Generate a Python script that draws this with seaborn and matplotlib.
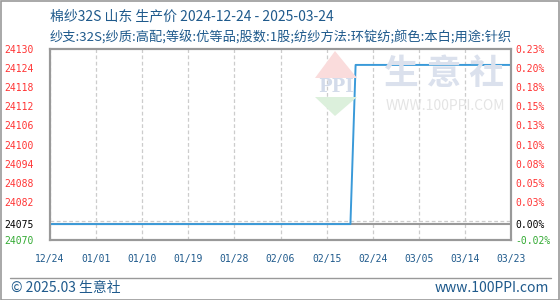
import matplotlib
matplotlib.use("Agg")
import matplotlib.pyplot as plt
import matplotlib.dates as mdates
from matplotlib.ticker import FixedLocator
from matplotlib.patches import Polygon, Rectangle
import seaborn as sns
import pandas as pd
import numpy as np

# ---- data ----
dates = ["2024-12-24", "2025-02-20", "2025-02-21", "2025-03-24"]
prices = [24075, 24075, 24125, 24125]
base_price = 24075
x_start, x_end = "2024-12-24", "2025-03-23"
x_tick_labels = ["12/24", "01/01", "01/10", "01/19", "01/28", "02/06",
                 "02/15", "02/24", "03/05", "03/14", "03/23"]
y_grid = [24070, 24076, 24082, 24088, 24094, 24100, 24106, 24112, 24118, 24124, 24130]
y_labels_left = ["24130", "24124", "24118", "24112", "24106", "24100",
                 "24094", "24088", "24082", "24075", "24070"]
y_labels_right = ["0.23%", "0.20%", "0.18%", "0.15%", "0.13%", "0.10%",
                  "0.08%", "0.05%", "0.03%", "0.00%", "-0.02%"]
y_label_pos = [24130, 24124, 24118, 24112, 24106, 24100, 24094, 24088, 24082, 24075, 24070]
title = "棉纱32S 山东 生产价 2024-12-24 - 2025-03-24"
subtitle = "纱支:32S;纱质:高配;等级:优等品;股数:1股;纺纱方法:环锭纺;颜色:本白;用途:针织"

df = pd.DataFrame({"date": pd.to_datetime(dates), "price": prices})

sns.set_theme(style="white")
plt.rcParams["font.family"] = ["Noto Sans CJK SC", "DejaVu Sans"]

fig = plt.figure(figsize=(5.6, 3.0), dpi=100)
ax = fig.add_axes([50/560, 1-240/300, 461/560, 191/300])

BLUE_TXT = "#1f5a8c"
RED = "#ff3333"
GREEN = "#33aa33"
GRID = "#cccccc"
FRAME = "#999999"

# watermark (behind data)
wm = dict(transform=fig.transFigure, zorder=0)
fig.patches.append(Polygon([[315/560, 1-78/300], [335/560, 1-51/300], [357/560, 1-78/300]],
                           closed=True, facecolor="#fadcdc", edgecolor="none", **wm))
fig.patches.append(Polygon([[315/560, 1-97/300], [357/560, 1-97/300], [335/560, 1-116/300]],
                           closed=True, facecolor="#dcf0dc", edgecolor="none", **wm))
fig.text(336/560, 1-87/300, "PPI", ha="center", va="center", fontsize=13,
         color="#d3dbea", fontweight="bold", family=["DejaVu Serif"], zorder=0)
fig.text(444/560, 1-73/300, "生 意 社", ha="center", va="center", fontsize=25,
         color="#dbe1ed", fontweight="bold", zorder=0)
fig.text(445/560, 1-106/300, "WWW.100PPI.COM", ha="center", va="center", fontsize=10,
         color="#e4e4e4", zorder=0)
ax.set_facecolor("none")

# baseline reference
ax.axhline(base_price, color=FRAME, lw=1.5, zorder=2)

sns.lineplot(data=df, x="date", y="price", ax=ax, color="#3a9ad9", lw=1.4, zorder=3)

x0, x1 = mdates.date2num(pd.Timestamp(x_start)), mdates.date2num(pd.Timestamp(x_end))
ax.set_xlim(x0, x1)
ax.set_ylim(min(y_grid), max(y_grid))
xt = np.linspace(x0, x1, len(x_tick_labels))
ax.set_xticks(xt)
ax.set_xticklabels(x_tick_labels)
ax.set_xlabel("")
ax.set_ylabel("")

# grid
ax.xaxis.grid(True, color=GRID, ls=(0, (3, 2)), lw=0.9)
ax.yaxis.set_minor_locator(FixedLocator(y_grid))
ax.yaxis.grid(True, which="minor", color=GRID, ls=(0, (3, 2)), lw=0.9)
ax.yaxis.grid(False, which="major")
ax.set_axisbelow(True)

ax.set_yticks(y_label_pos)
ax.set_yticklabels(y_labels_left)
ax.tick_params(axis="both", which="both", length=0)
ax.tick_params(axis="y", pad=11.5, labelsize=7)
ax.tick_params(axis="x", pad=10, labelsize=7, labelcolor=BLUE_TXT)
for lab in ax.get_yticklabels():
    lab.set_family(["DejaVu Sans Mono"])
    t = lab.get_text()
    lab.set_color("black" if t == str(base_price) else (GREEN if t == y_labels_left[-1] else RED))
for lab in ax.get_xticklabels():
    lab.set_family(["DejaVu Sans Mono"])

ax2 = ax.twinx()
ax2.set_ylim(ax.get_ylim())
ax2.set_yticks(y_label_pos)
ax2.set_yticklabels(y_labels_right)
ax2.tick_params(axis="y", length=0, pad=3, labelsize=7)
for lab in ax2.get_yticklabels():
    lab.set_family(["DejaVu Sans Mono"])
    t = lab.get_text()
    lab.set_color("black" if t == "0.00%" else (GREEN if t.startswith("-") else RED))
ax2.grid(False)

for a in (ax, ax2):
    for s in a.spines.values():
        s.set_visible(True)
        s.set_color(FRAME)
        s.set_linewidth(1.5)

# titles
fig.text(50/560, 1-16/300, title, fontsize=10, color=BLUE_TXT, va="center", ha="left")
fig.text(50/560, 1-37.5/300, subtitle, fontsize=9.5, color=BLUE_TXT, va="center", ha="left")

# footer
fig.add_artist(plt.Line2D([10/560, 551/560], [1-277.5/300, 1-277.5/300],
                          transform=fig.transFigure, color=FRAME, lw=1))
fig.text(11/560, 1-288/300, "© 2025.03 生意社", fontsize=10, color=BLUE_TXT, va="center", ha="left")
fig.text(549/560, 1-288/300, "www.100PPI.com", fontsize=10, color=BLUE_TXT, va="center", ha="right")
fig.patches.append(Rectangle((0.5/560, 0.5/300), 558.5/560, 298.5/300, transform=fig.transFigure,
                             facecolor="none", edgecolor=FRAME, lw=1.2))

fig.savefig("out.png", dpi=100)
